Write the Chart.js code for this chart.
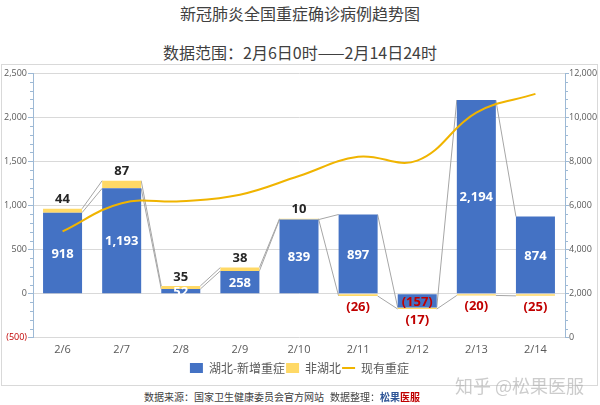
<!DOCTYPE html>
<html>
<head>
<meta charset="utf-8">
<script src="https://cdn.jsdelivr.net/npm/chart.js@4"></script>
<style>
  body { margin: 0; width: 600px; height: 405px; background: #fff; position: relative; overflow: hidden;
         font-family: "Noto Sans CJK SC", "Noto Sans", sans-serif; color: #404040; }
  .title { position: absolute; left: 0; width: 600px; text-align: center; font-size: 16px; line-height: 20px; }
  #frame { position: absolute; left: 1px; top: 64px; width: 597px; height: 322px; border: 1px solid #d9d9d9; box-sizing: border-box; }
  #frame canvas { display: block; }
  .foot { position: absolute; top: 389px; font-size: 10px; line-height: 16px; color: #404040; }
  .mark { position: absolute; left: 455px; top: 373px; font-size: 18px; line-height: 24px; color: rgba(170,170,170,0.6); }
</style>
</head>
<body>
<div class="title" style="top:3px">新冠肺炎全国重症确诊病例趋势图</div>
<div class="title" style="top:42px">数据范围：2月6日0时——2月14日24时</div>
<div id="frame"><canvas id="trendCanvas" width="595" height="320"></canvas></div>
<div class="foot" style="left:144px">数据来源：国家卫生健康委员会官方网站</div>
<div class="foot" style="left:330px">数据整理：<b style="color:#2F5597">松果</b><b style="color:#C00000">医服</b></div>
<div class="mark">知乎 @松果医服</div>

<script>
// data
let days = ['2/6', '2/7', '2/8', '2/9', '2/10', '2/11', '2/12', '2/13', '2/14'];
let hubeiNew = [918, 1193, 52, 258, 839, 897, -157, 2194, 874];
let otherNew = [44, 87, 35, 38, 10, -26, -17, -20, -25];
let currentSevere = [4821, 6101, 6188, 6484, 7333, 8204, 8030, 10204, 11053];

let leftTicks = [-500, 0, 500, 1000, 1500, 2000, 2500];

window.chartColors = {
  hubei: '#4472C4',
  other: '#FFD966',
  line: '#F0B400',
  axis: '#9DB9D5',
  grid: '#D9D9D9',
  red: '#C00000',
  text: '#595959'
};

// number like excel: 1,193 and (157)
function fmt(v) {
  let s = Math.abs(v).toLocaleString('en-US');
  return v < 0 ? '(' + s + ')' : s;
}

// gray series lines between the bars
let seriesLines = {
  id: 'seriesLines',
  beforeDatasetsDraw(chart) {
    let ctx = chart.ctx;
    ctx.save();
    ctx.strokeStyle = '#A6A6A6';
    ctx.lineWidth = 1;
    [0, 1].forEach(function (d) {
      let bars = chart.getDatasetMeta(d).data;
      for (let i = 0; i < bars.length - 1; i++) {
        let a = bars[i], b = bars[i + 1];
        ctx.beginPath();
        ctx.moveTo(a.x + a.width / 2, a.y);
        ctx.lineTo(b.x - b.width / 2, b.y);
        ctx.stroke();
      }
    });
    ctx.restore();
  }
};

// value labels
let barLabels = {
  id: 'barLabels',
  afterDatasetsDraw(chart) {
    let ctx = chart.ctx;
    ctx.save();
    ctx.font = 'bold 13px "Open Sans", sans-serif';
    ctx.textAlign = 'center';
    ctx.textBaseline = 'middle';
    // hubei: inside the bar
    chart.getDatasetMeta(0).data.forEach(function (el, i) {
      let v = hubeiNew[i];
      ctx.fillStyle = v < 0 ? chartColors.red : '#fff';
      ctx.fillText(fmt(v), el.x, (el.y + el.base) / 2 + 1);
    });
    // others: above or below the stack
    chart.getDatasetMeta(1).data.forEach(function (el, i) {
      let v = otherNew[i];
      if (v < 0) {
        ctx.fillStyle = chartColors.red;
        ctx.fillText(fmt(v), el.x, el.y + 11);
      } else {
        ctx.fillStyle = '#262626';
        ctx.fillText(fmt(v), el.x, el.y - 9);
      }
    });
    ctx.restore();
  }
};

// small minor ticks on both value axes
let minorTicks = {
  id: 'minorTicks',
  afterDraw(chart) {
    let ctx = chart.ctx;
    let y = chart.scales.y, y1 = chart.scales.y1;
    let area = chart.chartArea;
    ctx.save();
    ctx.strokeStyle = chartColors.axis;
    ctx.lineWidth = 1;
    for (let v = y.min; v <= y.max; v += 100) {
      if (v % 500 === 0) continue;
      let p = Math.round(y.getPixelForValue(v)) + 0.5;
      ctx.beginPath();
      ctx.moveTo(area.left - 3, p);
      ctx.lineTo(area.left, p);
      ctx.stroke();
    }
    for (let v = y1.min; v <= y1.max; v += 400) {
      if (v % 2000 === 0) continue;
      let p = Math.round(y1.getPixelForValue(v)) + 0.5;
      ctx.beginPath();
      ctx.moveTo(area.right, p);
      ctx.lineTo(area.right + 3, p);
      ctx.stroke();
    }
    ctx.restore();
  }
};

let trendCtx = document.getElementById('trendCanvas').getContext('2d');

let trendChart = new Chart(trendCtx, {
  type: 'bar',
  data: {
    labels: days,
    datasets: [
      {
        label: '湖北-新增重症',
        data: hubeiNew,
        backgroundColor: chartColors.hubei,
        borderWidth: 0,
        order: 1,
        barPercentage: 0.66,
        categoryPercentage: 1
      },
      {
        label: '非湖北',
        data: otherNew,
        backgroundColor: chartColors.other,
        borderWidth: 0,
        order: 1,
        barPercentage: 0.66,
        categoryPercentage: 1
      },
      {
        type: 'line',
        label: '现有重症',
        data: currentSevere,
        yAxisID: 'y1',
        borderColor: chartColors.line,
        backgroundColor: chartColors.line,
        borderWidth: 2,
        pointRadius: 0,
        tension: 0.4,
        order: 0
      }
    ]
  },
  options: {
    responsive: false,
    animation: false,
    layout: { padding: { top: 8, left: 0, right: 0, bottom: 1 } },
    plugins: {
      tooltip: { enabled: false },
      legend: {
        position: 'bottom',
        labels: {
          color: chartColors.text,
          font: { size: 12, family: '"Noto Sans CJK SC", sans-serif' },
          usePointStyle: true,
          pointStyleWidth: 13,
          boxHeight: 10,
          padding: 1,
          generateLabels(chart) {
            return chart.data.datasets.map(function (ds, i) {
              return {
                text: ds.label,
                fillStyle: ds.backgroundColor,
                strokeStyle: ds.type === 'line' ? ds.borderColor : ds.backgroundColor,
                lineWidth: ds.type === 'line' ? 2 : 0,
                pointStyle: ds.type === 'line' ? 'line' : 'rect',
                fontColor: chartColors.text,
                datasetIndex: i,
                hidden: false
              };
            });
          }
        }
      }
    },
    scales: {
      x: {
        stacked: true,
        grid: { display: false, drawTicks: false },
        border: { display: false },
        ticks: { color: chartColors.text, font: { size: 11, family: '"Open Sans", sans-serif' }, padding: 5 }
      },
      y: {
        stacked: true,
        min: -500,
        max: 2500,
        afterBuildTicks(scale) { scale.ticks = leftTicks.map(function (v) { return { value: v }; }); },
        afterFit(scale) { scale.width = 31; },
        grid: { color: chartColors.grid, tickColor: chartColors.axis, tickLength: 5 },
        border: { color: chartColors.axis },
        ticks: {
          padding: 1,
          font: { size: 9, family: '"Open Sans", sans-serif' },
          color: function (c) { return c.tick.value < 0 ? chartColors.red : chartColors.text; },
          callback: function (v) { return fmt(v); }
        }
      },
      y1: {
        position: 'right',
        min: 0,
        max: 12000,
        afterFit(scale) { scale.width = 32; },
        grid: { drawOnChartArea: false, tickColor: chartColors.axis, tickLength: 4 },
        border: { color: chartColors.axis },
        ticks: {
          stepSize: 2000,
          padding: 0,
          font: { size: 9, family: '"Open Sans", sans-serif' },
          color: chartColors.text,
          callback: function (v) { return fmt(v); }
        }
      }
    }
  },
  plugins: [seriesLines, barLabels, minorTicks]
});
</script>
</body>
</html>
